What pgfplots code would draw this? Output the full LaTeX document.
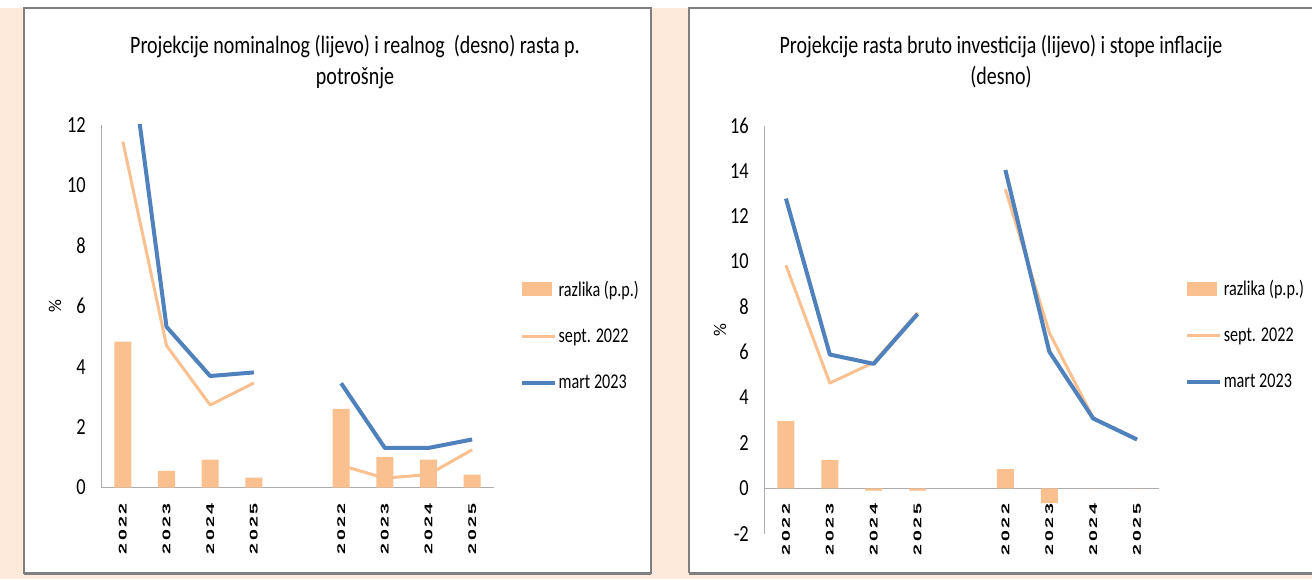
\documentclass[border=0pt]{standalone}
\usepackage{graphicx}
\usepackage{pgfplots}
\pgfplotsset{compat=1.18}
\usepackage{fontspec}
\setmainfont{Carlito}
\newfontfamily\calfont[FakeStretch=0.8]{Carlito}
\newfontfamily\xtfont[FakeStretch=1.75]{Liberation Sans}
\definecolor{pinkbg}{HTML}{FDEADA}
\definecolor{barc}{HTML}{FAC090}
\definecolor{septc}{HTML}{FAC090}
\definecolor{martc}{HTML}{4F81BD}
\definecolor{framec}{HTML}{7F7F7F}
\newcommand\yr[4]{#1\kern2.5pt#2\kern2.5pt#3\kern2.5pt#4}
\newcommand\sq[1]{\scalebox{0.77}[1]{#1}}

\pgfplotsset{
  panel/.style={
    scale only axis, xmin=-0.5, xmax=8.5,
    xtick={0,1,2,3,5,6,7,8},
    xticklabels={\yr2022,\yr2023,\yr2024,\yr2025,\yr2022,\yr2023,\yr2024,\yr2025},
    axis y line=left,
    axis line style={-, draw=gray!65, line width=1pt},
    major tick length=0pt,
    hide obscured x ticks=false, hide obscured y ticks=false,
    /pgf/number format/assume math mode=true,
    yticklabel={\scalebox{0.8}[1]{\pgfmathprintnumber{\tick}}},
    yticklabel style={font=\fontsize{23}{23}\selectfont, inner sep=0pt},
    yticklabel shift=15pt,
    xticklabel style={font=\fontsize{11.2}{11.2}\xtfont\bfseries, rotate=90, anchor=east, inner sep=0pt},
    xticklabel shift=15.5pt,
    unbounded coords=jump,
    ylabel={\%},
    ylabel style={font=\fontsize{18}{18}\selectfont, anchor=center},
    legend style={draw=none, fill=none, anchor=west, font=\fontsize{21}{21}\selectfont,
      row sep=28pt, inner sep=0pt, nodes={inner sep=1.5pt}},
    legend cell align=left,
  },
  barleg/.style={legend image code/.code={\fill[##1, draw=none] (0pt,-7pt) rectangle (30pt,7pt);}},
  lineleg/.style={legend image code/.code={\draw[##1] (0pt,0pt) -- (33pt,0pt);}},
}

\begin{document}
\begin{tikzpicture}
  \path[use as bounding box] (0,0) rectangle (1312pt,579pt);
  % backgrounds and frames
  \fill[pinkbg] (0,0) rectangle (1312pt,571pt);
  \fill[white] (24pt,6pt) rectangle (651pt,571pt);
  \draw[framec, line width=1.5pt] (24pt,6pt) rectangle (651pt,571pt);
  \draw[framec, line width=3pt] (24pt,6pt) -- (651pt,6pt);
  \fill[white] (689pt,6pt) rectangle (1312pt,571pt);
  \draw[framec, line width=1.5pt] (1312pt,571pt) -- (689pt,571pt) -- (689pt,6pt);
  \draw[framec, line width=3pt] (689pt,6pt) -- (1312pt,6pt);

  \node[align=center, font=\fontsize{25}{31}\calfont] at (355pt,516.5pt)
    {Projekcije nominalnog (lijevo) i realnog\ \ (desno) rasta p.\\potrošnje};
  \node[align=center, font=\fontsize{25}{31}\calfont] at (1001pt,517pt)
    {Projekcije rasta bruto investicija (lijevo) i stope inflacije\\(desno)};

  \begin{axis}[panel, at={(101pt,91.5pt)}, anchor=south west,
      width=393pt, height=362.5pt, ymin=0, ymax=12, ytick={0,2,...,12},
      axis x line=bottom, x axis line style={-},
      ylabel style={at={(axis description cs:-0.117,0.5)}},
      legend style={at={(axis description cs:1.066,0.419)}}]
    \addplot[ybar, bar width=17pt, bar shift=0pt, fill=barc, draw=none, barleg]
      coordinates {(0,4.83) (1,0.55) (2,0.92) (3,0.33) (5,2.60) (6,1.01) (7,0.92) (8,0.43)};
    \addlegendentry{\sq{razlika (p.p.)}}
    \addplot[septc, line width=3pt, line join=round, lineleg]
      coordinates {(0,11.45) (1,4.70) (2,2.73) (3,3.46) (4,nan) (5,0.73) (6,0.31) (7,0.43) (8,1.25)};
    \addlegendentry{\sq{sept. 2022}}
    \addplot[martc, line width=4pt, line join=round, lineleg]
      coordinates {(0,16.28) (1,5.32) (2,3.69) (3,3.81) (4,nan) (5,3.45) (6,1.31) (7,1.31) (8,1.59)};
    \addlegendentry{\sq{mart 2023}}
  \end{axis}

  \begin{axis}[panel, at={(764pt,45.4pt)}, anchor=south west,
      width=395pt, height=408pt, ymin=-2, ymax=16, ytick={-2,0,...,16},
      axis x line=middle, x axis line style={-},
      ylabel style={at={(axis description cs:-0.111,0.5)}},
      legend style={at={(axis description cs:1.066,0.487)}}]
    \addplot[ybar, bar width=17pt, bar shift=0pt, fill=barc, draw=none, barleg]
      coordinates {(0,2.96) (1,1.24) (2,-0.10) (3,-0.10) (5,0.85) (6,-0.65) (7,0) (8,0)};
    \addlegendentry{\sq{razlika (p.p.)}}
    \addplot[septc, line width=3pt, line join=round, lineleg]
      coordinates {(0,9.84) (1,4.64) (2,5.55) (3,7.75) (4,nan) (5,13.19) (6,6.87) (7,3.10) (8,2.15)};
    \addlegendentry{\sq{sept. 2022}}
    \addplot[martc, line width=4pt, line join=round, lineleg]
      coordinates {(0,12.78) (1,5.90) (2,5.49) (3,7.69) (4,nan) (5,14.04) (6,6.03) (7,3.08) (8,2.15)};
    \addlegendentry{\sq{mart 2023}}
  \end{axis}
\end{tikzpicture}
\end{document}
